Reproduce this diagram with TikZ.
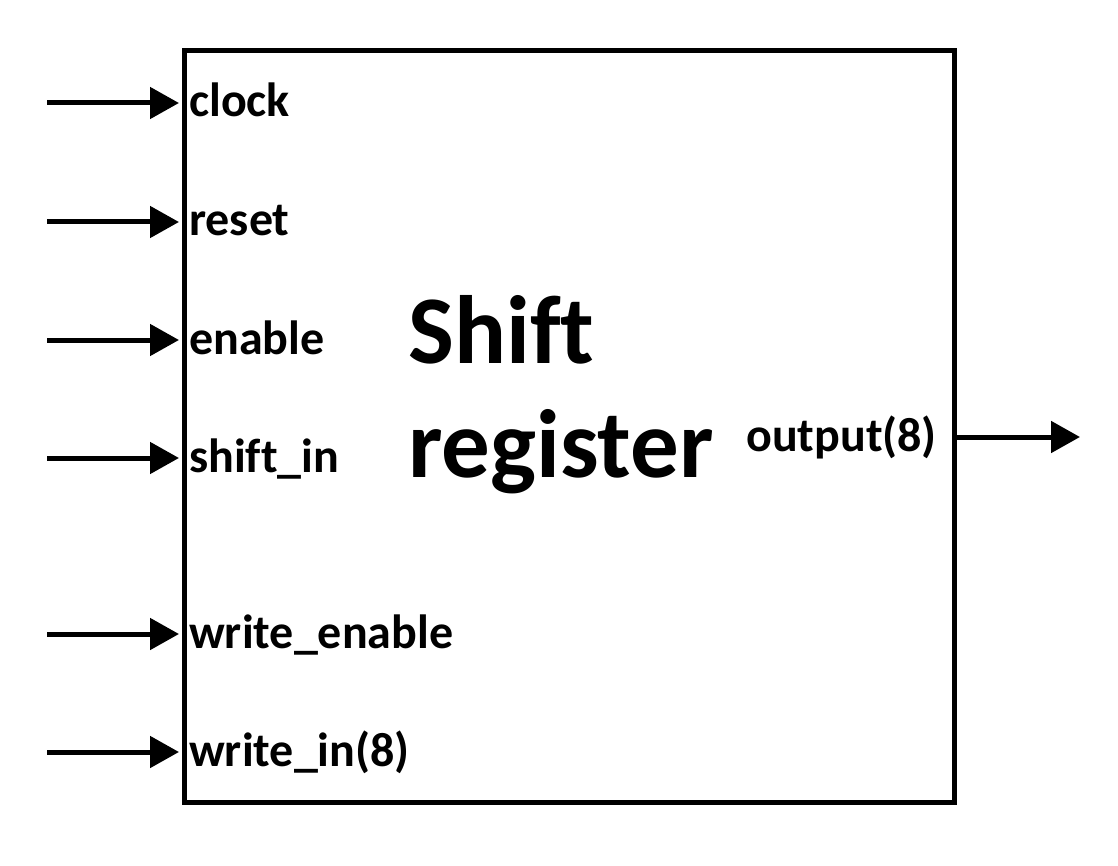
\documentclass[tikz,border=0pt]{standalone}
\usepackage{fontspec}
\setmainfont{Carlito}[Ligatures={NoCommon}]
\usetikzlibrary{arrows.meta}
\begin{document}
\begin{tikzpicture}[x=1pt,y=-1pt,
  sig/.style={line width=5pt,-{Triangle[length=29pt,width=31pt]}},
  lbl/.style={anchor=base west,inner sep=0pt,font=\fontsize{48}{56}\selectfont\bfseries},
  ttl/.style={anchor=base west,inner sep=0pt,font=\fontsize{97}{100}\selectfont\bfseries}]
\useasboundingbox (0,0) rectangle (1118,866);
\node[draw,line width=5pt,minimum width=770.5pt,minimum height=752pt,inner sep=0pt,anchor=north west] (box) at (181.5,48) {};
\node[ttl] (t1) at (408,363) {Shift};
\node[ttl] (t2) at (408,477) {register};
\foreach \n/\y/\t in {clk/103/clock,rst/222/reset,en/340/enable,si/458/shift\_in,we/634/write\_enable,wi/752/write\_in(8)}{
  \coordinate (s\n) at (47,\y);
  \coordinate (e\n) at (179,\y);
  \draw[sig] (s\n) -- (e\n);
  \node[lbl] (l\n) at (189,\y+14) {\t};
}
\coordinate (os) at (952,437);
\coordinate (oe) at (1080,437);
\draw[sig] (os) -- (oe);
\node[lbl,anchor=base east] (lo) at (937,451) {output(8)};
\end{tikzpicture}
\end{document}
